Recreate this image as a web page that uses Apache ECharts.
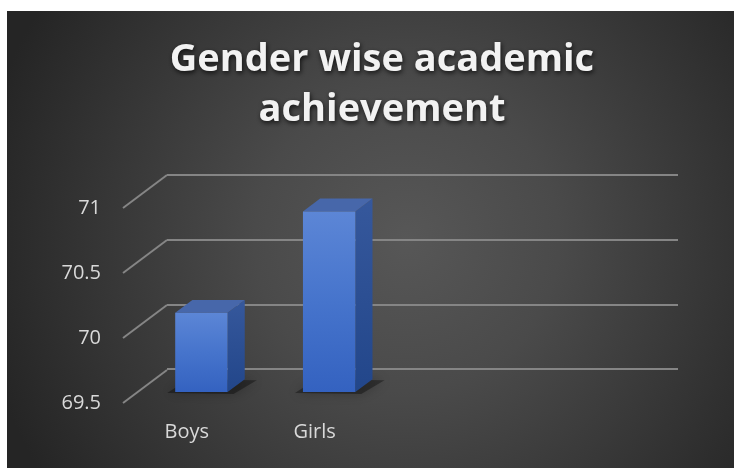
<!DOCTYPE html>
<html>
<head>
<meta charset="utf-8">
<script src="https://cdn.jsdelivr.net/npm/echarts@6/dist/echarts.min.js"></script>
<style>
  html, body { margin: 0; padding: 0; background: #fff; }
  #main { width: 734px; height: 468px; }
</style>
</head>
<body>
<div id="main"></div>
<script>
// data
var categories = ['Boys', 'Girls', '', ''];
var scores = [70.11, 70.89, null, null];
var yTicks = [69.5, 70, 70.5, 71];
var titleText = 'Gender wise academic\nachievement';

(function() {
    var myChart = echarts.init(document.getElementById('main'));

    // depth of the floor (front plane -> back wall) in px
    var DEPTH = [44, -33];
    var BAR_START = 0.33;   // front face of bar, share of depth
    var BAR_DEPTH = 0.39;   // bar thickness, share of depth

    var barData = [];
    scores.forEach(function(v, i) {
        if (v != null) barData.push([i, v]);
    });

    function renderBar(params, api) {
        var idx = api.value(0);
        var v = api.value(1);
        var base = api.coord([idx, yTicks[0]]);
        var top = api.coord([idx, v]);
        var bw = api.size([1, 0])[0] * 0.41;
        var ox = DEPTH[0] * BAR_START, oy = DEPTH[1] * BAR_START;
        var dx = DEPTH[0] * BAR_DEPTH, dy = DEPTH[1] * BAR_DEPTH;
        var xl = base[0] + ox - bw / 2, xr = xl + bw;
        var yt = top[1] + oy, yb = base[1] + oy;
        return {
            type: 'group',
            children: [
                {
                    type: 'polygon',
                    shape: { points: [[xl - 8, yb + 1], [xr + 6, yb + 2], [xr + dx + 12, yb + dy + 1], [xl + dx - 4, yb + dy]] },
                    style: { fill: 'rgba(0,0,0,0.35)', shadowBlur: 12, shadowColor: 'rgba(0,0,0,0.7)' }
                },
                {
                    type: 'polygon',
                    shape: { points: [[xr, yt], [xr + dx, yt + dy], [xr + dx, yb + dy], [xr, yb]] },
                    style: {
                        fill: new echarts.graphic.LinearGradient(0, 0, 0, 1, [
                            { offset: 0, color: '#36589c' },
                            { offset: 1, color: '#22468a' }
                        ])
                    }
                },
                {
                    type: 'polygon',
                    shape: { points: [[xl, yt], [xr, yt], [xr + dx, yt + dy], [xl + dx, yt + dy]] },
                    style: { fill: '#4767aa' }
                },
                {
                    type: 'rect',
                    shape: { x: xl, y: yt, width: bw, height: yb - yt },
                    style: {
                        fill: new echarts.graphic.LinearGradient(0, 0, 0, 1, [
                            { offset: 0, color: '#5c86d6' },
                            { offset: 0.5, color: '#4674cc' },
                            { offset: 1, color: '#3462c0' }
                        ])
                    }
                }
            ]
        };
    }

    function renderDiagonal(params, api) {
        var p = api.coord([0, api.value(1)]);
        var x0 = params.coordSys.x;
        return {
            type: 'line',
            shape: { x1: x0, y1: p[1], x2: x0 + DEPTH[0], y2: p[1] + DEPTH[1] },
            style: { stroke: '#858585', lineWidth: 2 }
        };
    }

    var option = {
        backgroundColor: '#ffffff',
        animation: false,
        graphic: [{
            type: 'rect',
            z: -10,
            silent: true,
            shape: { x: 7, y: 11, width: 727, height: 457 },
            style: {
                fill: new echarts.graphic.RadialGradient(0.55, 0.5, 0.95, [
                    { offset: 0, color: '#575757' },
                    { offset: 0.35, color: '#4a4a4a' },
                    { offset: 1, color: '#252525' }
                ])
            }
        }],
        title: {
            text: titleText,
            left: 377,
            top: 30,
            textAlign: 'center',
            textStyle: {
                fontFamily: 'Open Sans',
                fontWeight: 'bold',
                fontSize: 38,
                lineHeight: 50,
                color: '#f2f2f2',
                textShadowColor: 'rgba(0,0,0,0.75)',
                textShadowBlur: 5,
                textShadowOffsetX: 1,
                textShadowOffsetY: 2
            }
        },
        grid: [
            // back wall
            { left: 167, right: 56, top: 175, bottom: 99 },
            // front plane
            { left: 123, right: 100, top: 208, bottom: 65 }
        ],
        xAxis: [
            {
                gridIndex: 0, type: 'category', data: categories,
                axisLine: { show: false }, axisTick: { show: false }, axisLabel: { show: false }
            },
            {
                gridIndex: 1, type: 'category', data: categories,
                axisLine: { show: false }, axisTick: { show: false },
                axisLabel: { color: '#d9d9d9', fontFamily: 'Open Sans', fontSize: 20, margin: 19 }
            }
        ],
        yAxis: [
            {
                gridIndex: 0, type: 'value', min: 69.5, max: 71, interval: 0.5,
                axisLine: { show: false }, axisTick: { show: false }, axisLabel: { show: false },
                splitLine: { lineStyle: { color: '#858585', width: 2 } }
            },
            {
                gridIndex: 1, type: 'value', min: 69.5, max: 71, interval: 0.5,
                axisLine: { show: false }, axisTick: { show: false }, splitLine: { show: false },
                axisLabel: { color: '#d9d9d9', fontFamily: 'Open Sans', fontSize: 20, margin: 22 }
            }
        ],
        series: [
            {
                type: 'custom',
                xAxisIndex: 1, yAxisIndex: 1,
                renderItem: renderDiagonal,
                data: yTicks.map(function(v) { return [0, v]; }),
                silent: true, z: 1
            },
            {
                type: 'custom',
                name: 'Score',
                xAxisIndex: 1, yAxisIndex: 1,
                renderItem: renderBar,
                data: barData,
                z: 3
            }
        ]
    };

    myChart.setOption(option);
    window.addEventListener('resize', function() {
        myChart.resize();
    });
})();
</script>
</body>
</html>
